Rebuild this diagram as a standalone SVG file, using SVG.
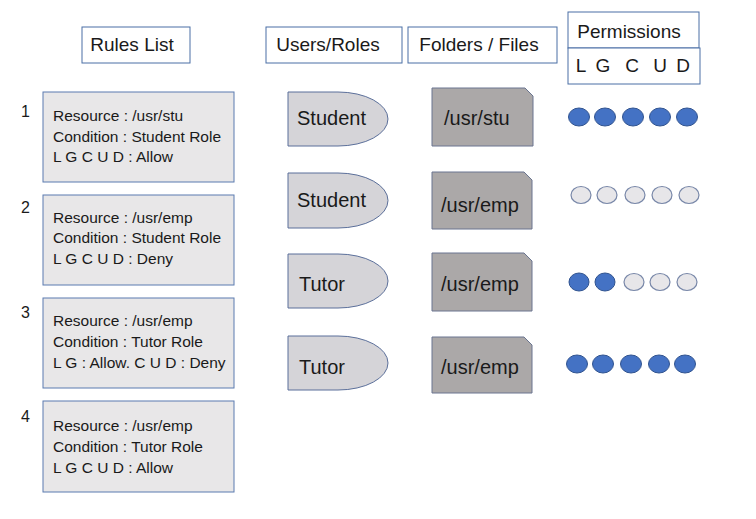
<svg xmlns="http://www.w3.org/2000/svg" width="756" height="519" viewBox="0 0 756 519">
<style>
text{font-family:"Liberation Sans",Arial,sans-serif;fill:#1a1a1a}
.hdr{fill:#fff;stroke:#4a6fa5;stroke-width:1}
.ht{font-size:19px;text-anchor:middle}
.rule{fill:#e8e7e8;stroke:#5b7bb0;stroke-width:1}
.rt{font-size:15.5px}
.num{font-size:16px}
.role{fill:#d5d4d8;stroke:#5b6f9a;stroke-width:1}
.doc{fill:#aba8a8;stroke:#6a7590;stroke-width:1}
.st{font-size:20px}
.on{fill:#4472c4;stroke:#2f528f;stroke-width:1}
.off{fill:#e7e6e9;stroke:#7887a8;stroke-width:1.2}
</style>
<g id="hdr-rules"><rect class="hdr" x="82" y="27" width="108" height="36"/><text class="ht" x="132" y="51">Rules List</text></g>
<g id="hdr-users"><rect class="hdr" x="266" y="27" width="136" height="36"/><text class="ht" x="328" y="51">Users/Roles</text></g>
<g id="hdr-folders"><rect class="hdr" x="408" y="27" width="149" height="36"/><text class="ht" x="479" y="51">Folders / Files</text></g>
<g id="hdr-perm"><rect class="hdr" x="568" y="12" width="131" height="36"/><text class="ht" x="629" y="38">Permissions</text>
<rect class="hdr" x="568" y="48" width="132" height="36"/>
<text class="ht" x="581" y="72">L</text><text class="ht" x="603" y="72">G</text><text class="ht" x="632" y="72">C</text><text class="ht" x="660" y="72">U</text><text class="ht" x="683" y="72">D</text></g>

<g id="rule1"><text class="num" x="21" y="117">1</text><rect class="rule" x="43" y="92" width="191" height="90"/>
<text class="rt" x="53" y="121">Resource : /usr/stu</text><text class="rt" x="53" y="142">Condition : Student Role</text><text class="rt" x="53" y="162">L G C U D : Allow</text></g>
<g id="rule2"><text class="num" x="21" y="213">2</text><rect class="rule" x="43" y="195" width="191" height="90"/>
<text class="rt" x="53" y="223">Resource : /usr/emp</text><text class="rt" x="53" y="243">Condition : Student Role</text><text class="rt" x="53" y="264">L G C U D : Deny</text></g>
<g id="rule3"><text class="num" x="21" y="318">3</text><rect class="rule" x="43" y="298" width="191" height="90"/>
<text class="rt" x="53" y="326">Resource : /usr/emp</text><text class="rt" x="53" y="347">Condition : Tutor Role</text><text class="rt" x="53" y="368">L G : Allow. C U D : Deny</text></g>
<g id="rule4"><text class="num" x="21" y="422">4</text><rect class="rule" x="43" y="401" width="191" height="91"/>
<text class="rt" x="53" y="431">Resource : /usr/emp</text><text class="rt" x="53" y="452">Condition : Tutor Role</text><text class="rt" x="53" y="473">L G C U D : Allow</text></g>

<g id="role1"><path class="role" d="M288,92 H338 A50,27 0 0 1 338,146 H288 Z"/><text class="st" x="297" y="125">Student</text></g>
<g id="role2"><path class="role" d="M288,173 H338 A50,27.5 0 0 1 338,228 H288 Z"/><text class="st" x="297" y="207">Student</text></g>
<g id="role3"><path class="role" d="M288,254 H338 A50,27 0 0 1 338,308 H288 Z"/><text class="st" x="299" y="291">Tutor</text></g>
<g id="role4"><path class="role" d="M288,336 H338 A50,27 0 0 1 338,390 H288 Z"/><text class="st" x="299" y="374">Tutor</text></g>

<g id="file1"><path class="doc" d="M432,88 H525 L533,96 V146 H432 Z"/><text class="st" x="444" y="125">/usr/stu</text></g>
<g id="file2"><path class="doc" d="M432,172 H524 L532,180 V229 H432 Z"/><text class="st" x="441" y="212">/usr/emp</text></g>
<g id="file3"><path class="doc" d="M432,253 H524 L532,261 V311 H432 Z"/><text class="st" x="441" y="291">/usr/emp</text></g>
<g id="file4"><path class="doc" d="M432,337 H524 L532,345 V393 H432 Z"/><text class="st" x="441" y="374">/usr/emp</text></g>

<g id="perm1"><ellipse class="on" cx="579" cy="117" rx="10.5" ry="9"/><ellipse class="on" cx="605" cy="117" rx="10.5" ry="9"/><ellipse class="on" cx="633" cy="117" rx="10.5" ry="9"/><ellipse class="on" cx="660" cy="117" rx="10.5" ry="9"/><ellipse class="on" cx="687" cy="117" rx="10.5" ry="9"/></g>
<g id="perm2"><ellipse class="off" cx="581" cy="195" rx="10" ry="8.5"/><ellipse class="off" cx="607" cy="195" rx="10" ry="8.5"/><ellipse class="off" cx="635" cy="195" rx="10" ry="8.5"/><ellipse class="off" cx="662" cy="195" rx="10" ry="8.5"/><ellipse class="off" cx="689" cy="195" rx="10" ry="8.5"/></g>
<g id="perm3"><ellipse class="on" cx="579" cy="282" rx="10" ry="9"/><ellipse class="on" cx="605" cy="282" rx="10" ry="9"/><ellipse class="off" cx="634" cy="282" rx="10" ry="8.5"/><ellipse class="off" cx="660" cy="282" rx="10" ry="8.5"/><ellipse class="off" cx="687" cy="282" rx="10" ry="8.5"/></g>
<g id="perm4"><ellipse class="on" cx="577" cy="364" rx="10.5" ry="9"/><ellipse class="on" cx="603" cy="364" rx="10.5" ry="9"/><ellipse class="on" cx="631" cy="364" rx="10.5" ry="9"/><ellipse class="on" cx="659" cy="364" rx="10.5" ry="9"/><ellipse class="on" cx="685" cy="364" rx="10.5" ry="9"/></g>
</svg>
